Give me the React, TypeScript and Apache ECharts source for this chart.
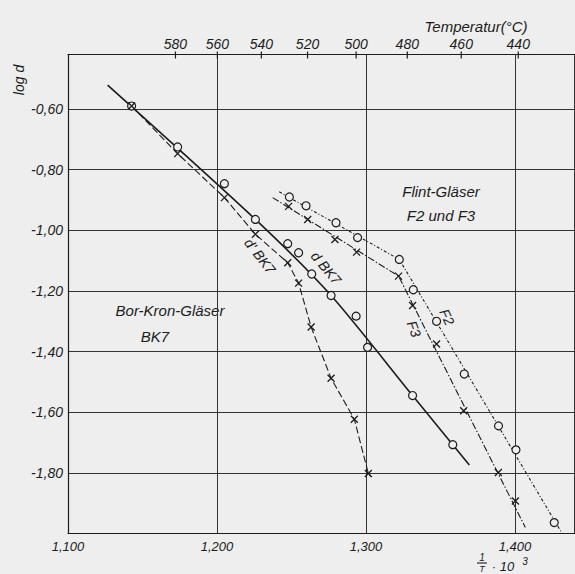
import React, { useEffect, useRef } from "react";
import * as echarts from "echarts";

const X_MIN = 1.1;
const X_MAX = 1.44;
const Y_MIN = -2.0;
const Y_MAX = -0.42;

// Temperature (°C) ticks on the top axis, placed at 1000/(T+273.15)
const tempTicks = [580, 560, 540, 520, 500, 480, 460, 440];

// d BK7 (circles) and its drawn curve
const dBK7Points = [
  [1.1427, -0.59], [1.1736, -0.725], [1.205, -0.846], [1.2258, -0.964],
  [1.2475, -1.044], [1.2548, -1.074], [1.2636, -1.144], [1.2766, -1.215],
  [1.2934, -1.283], [1.3011, -1.386], [1.3313, -1.545], [1.3583, -1.707],
];
const dBK7Line = [
  [1.1266, -0.521], [1.2258, -0.964], [1.2766, -1.215], [1.3313, -1.545], [1.3694, -1.774],
];

// d' BK7 (crosses)
const dpBK7Points = [
  [1.1427, -0.59], [1.1736, -0.747], [1.205, -0.892], [1.2258, -1.013],
  [1.2475, -1.107], [1.2548, -1.174], [1.2632, -1.319], [1.2766, -1.488],
  [1.2922, -1.623], [1.3016, -1.802],
];
const dpBK7End = [1.3032, -1.812];

// F2 (circles)
const f2Points = [
  [1.2486, -0.89], [1.2598, -0.919], [1.2799, -0.975], [1.2944, -1.024],
  [1.3224, -1.096], [1.3318, -1.196], [1.3474, -1.3], [1.366, -1.474],
  [1.389, -1.645], [1.4007, -1.724], [1.4264, -1.964],
];
const f2Line = [[1.2418, -0.873], [1.3224, -1.096], [1.4317, -2.0]];

// F3 (crosses)
const f3Points = [
  [1.2481, -0.921], [1.2609, -0.964], [1.2792, -1.03], [1.2937, -1.072],
  [1.3219, -1.151], [1.3313, -1.248], [1.3474, -1.375], [1.3656, -1.595],
  [1.3889, -1.799], [1.4003, -1.893],
];
const f3Line = [[1.2374, -0.892], [1.3219, -1.151], [1.407, -1.98]];

const INK = "#1c1c1c";
const BG = "#eeeeee";
const FONT = "'Liberation Sans', 'DejaVu Sans', sans-serif";
const CROSS = "path://M0,0L10,10M10,0L0,10";

export default function App() {
  const ref = useRef<HTMLDivElement>(null);

  useEffect(() => {
    if (!ref.current) return;
    const chart = echarts.init(ref.current, null, { renderer: "svg" });

    const circleSeries = (data: number[][]) => ({
      type: "scatter",
      data,
      symbol: "circle",
      symbolSize: 8,
      itemStyle: { color: BG, borderColor: INK, borderWidth: 1.2, opacity: 1 },
      z: 5,
      silent: true,
    });
    const crossSeries = (data: number[][]) => ({
      type: "scatter",
      data,
      symbol: CROSS,
      symbolSize: 7,
      itemStyle: { color: "transparent", borderColor: INK, borderWidth: 1.3, opacity: 1 },
      z: 6,
      silent: true,
    });
    const lineSeries = (data: number[][], type: any, width: number, smooth: any = false) => ({
      type: "line",
      data,
      symbol: "none",
      showSymbol: false,
      smooth,
      lineStyle: { color: INK, width, type },
      z: 3,
      silent: true,
    });

    const txt = (text: string, x: number, y: number, size: number, rotation = 0) => ({
      type: "text",
      x,
      y,
      rotation,
      style: {
        text,
        fill: INK,
        font: `italic ${size}px ${FONT}`,
        align: "center",
        verticalAlign: "middle",
        textAlign: "center",
        textVerticalAlign: "middle",
      },
      silent: true,
    });

    const deg = Math.PI / 180;

    chart.setOption({
      animation: false,
      backgroundColor: BG,
      grid: { left: 68, right: 0.5, top: 54.5, bottom: 40.5, containLabel: false },
      xAxis: [
        {
          type: "value",
          min: X_MIN,
          max: X_MAX,
          interval: 0.1,
          position: "bottom",
          axisLine: { show: true, lineStyle: { color: INK, width: 1.2 } },
          axisTick: { show: false },
          splitLine: { show: true, lineStyle: { color: "#333", width: 1 } },
          axisLabel: {
            color: INK,
            fontFamily: FONT,
            fontStyle: "italic",
            fontSize: 13,
            margin: 6,
            showMaxLabel: false,
            formatter: (v: number) => {
              const k = Math.round(v * 10);
              if (Math.abs(v * 10 - k) > 1e-6) return "";
              return v.toFixed(3).replace(".", ",");
            },
          },
        },
        {
          type: "value",
          min: X_MIN,
          max: X_MAX,
          position: "top",
          axisLine: { show: true, onZero: false, lineStyle: { color: INK, width: 1.2 } },
          axisTick: { show: false },
          axisLabel: { show: false },
          splitLine: { show: false },
        },
      ],
      yAxis: {
        type: "value",
        min: Y_MIN,
        max: Y_MAX,
        interval: 0.2,
        axisLine: { show: true, lineStyle: { color: INK, width: 1.2 } },
        axisTick: { show: false },
        splitLine: { show: true, lineStyle: { color: "#333", width: 1 } },
        axisLabel: {
          color: INK,
          fontFamily: FONT,
          fontStyle: "italic",
          fontSize: 14,
          margin: 5,
          showMaxLabel: false,
          formatter: (v: number) => (v < -1.99 ? "" : v.toFixed(2).replace(".", ",")),
        },
      },
      series: [
        lineSeries(dBK7Line, "solid", 1.6, 0.25),
        lineSeries([...dpBK7Points, dpBK7End], [7, 3], 1.1),
        lineSeries(f2Line, [3, 2, 1, 2], 1.1),
        lineSeries(f3Line, [7, 2, 1.5, 2], 1.1),
        circleSeries(dBK7Points),
        crossSeries(dpBK7Points),
        circleSeries(f2Points),
        crossSeries(f3Points),
        {
          type: "custom",
          data: tempTicks.map((t) => [1000 / (t + 273.15), t]),
          clip: false,
          silent: true,
          z: 10,
          renderItem: (params: any, api: any) => {
            const p = api.coord([api.value(0), Y_MAX]);
            return {
              type: "group",
              children: [
                {
                  type: "line",
                  shape: { x1: p[0], y1: p[1] - 3, x2: p[0], y2: p[1] + 4 },
                  style: { stroke: INK, lineWidth: 1.2 },
                },
                {
                  type: "text",
                  x: p[0],
                  y: p[1] - 11,
                  style: {
                    text: String(api.value(1)),
                    fill: INK,
                    font: `italic 14px ${FONT}`,
                    align: "center",
                    verticalAlign: "middle",
                    textAlign: "center",
                    textVerticalAlign: "middle",
                  },
                },
              ],
            };
          },
        },
      ],
      graphic: [
        txt("Temperatur(°C)", 476, 26, 15),
        txt("log d", 19, 80, 14, 90 * deg),
        txt("Flint-Gläser", 441, 191, 15),
        txt("F2 und F3", 441, 215, 15),
        txt("Bor-Kron-Gläser", 170, 310, 15),
        txt("BK7", 155, 336, 15),
        txt("d BK7", 326, 268, 14, -50 * deg),
        txt("d' BK7", 260, 256, 14, -52 * deg),
        txt("F2", 447, 317, 14, -65 * deg),
        txt("F3", 414, 329, 14, -70 * deg),
        txt("1", 482, 557, 10),
        {
          type: "line",
          shape: { x1: 477, y1: 563, x2: 487, y2: 563 },
          style: { stroke: INK, lineWidth: 1.1 },
          silent: true,
        },
        txt("T", 482, 568.5, 9),
        txt("· 10", 503, 566, 13),
        txt("3", 525, 561, 10),
      ],
    });

    return () => chart.dispose();
  }, []);

  return (
    <div
      ref={ref}
      style={{ position: "fixed", left: 0, top: 0, width: 575, height: 574 }}
    />
  );
}
